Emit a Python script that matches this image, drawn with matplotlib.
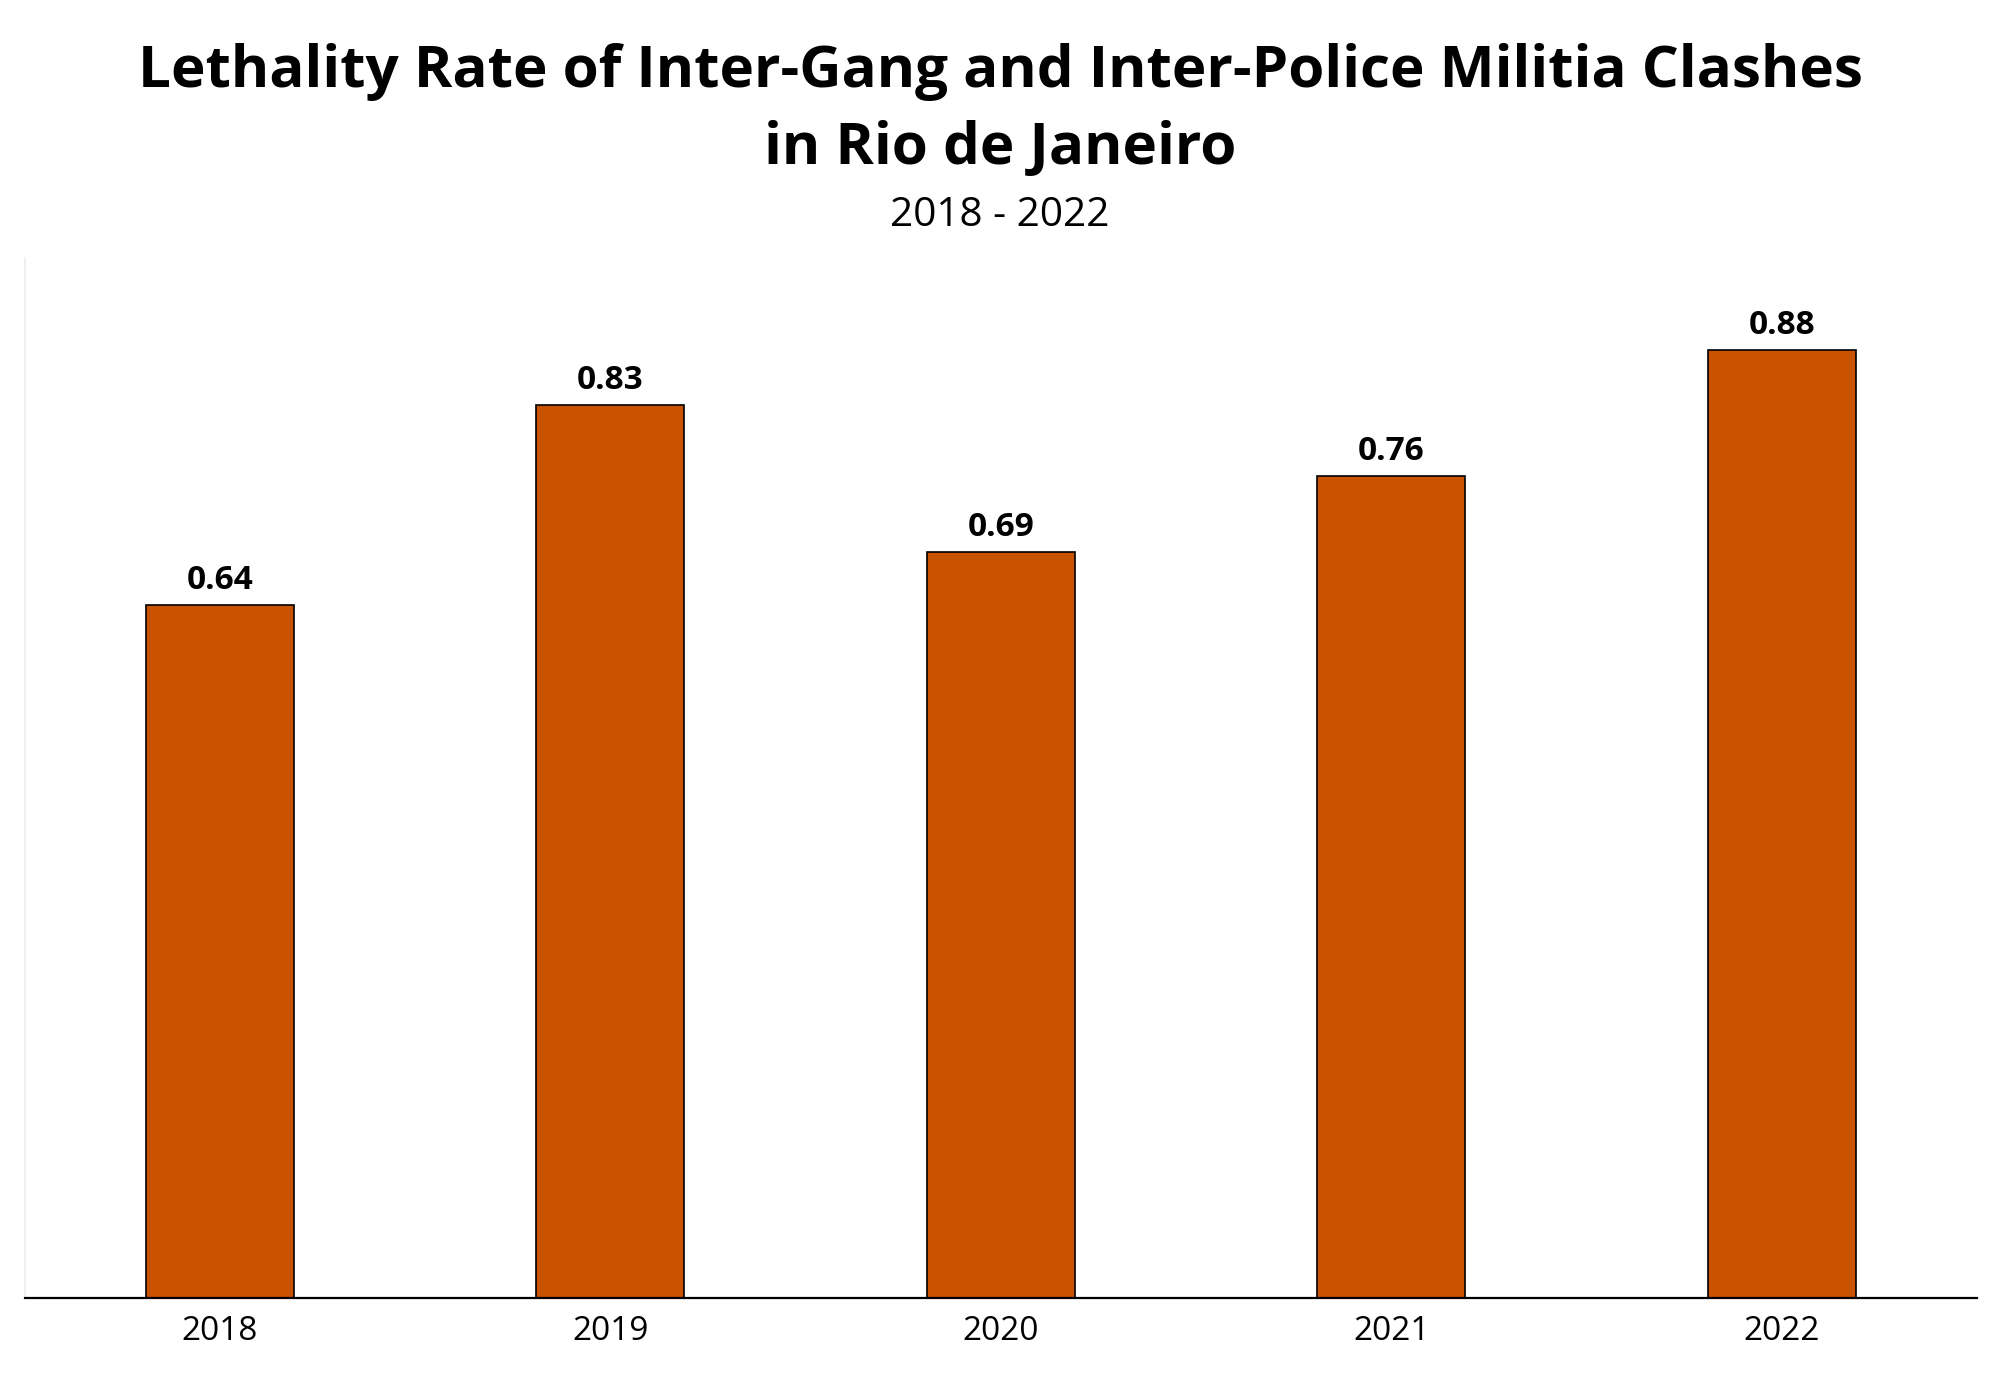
import matplotlib
matplotlib.use("Agg")
import matplotlib.pyplot as plt

years = ["2018", "2019", "2020", "2021", "2022"]
rates = [0.644, 0.830, 0.693, 0.764, 0.881]

plt.rcParams['font.family'] = ['Open Sans', 'DejaVu Sans']

fig = plt.figure(figsize=(10, 7), dpi=200)
ax = fig.add_axes([0.01225, 0.0729, 0.97625, 0.7428])

x = list(range(len(years)))
bars = ax.bar(x, rates, width=0.38, color="#C85200", edgecolor="black", linewidth=0.6)

for xi, v in zip(x, rates):
    ax.annotate(f"{v:.2f}", (xi, v), xytext=(0, 3), textcoords="offset points",
                ha="center", va="bottom", fontsize=12, fontweight="bold")

ax.set_xlim(-0.5, len(years) - 0.5)
ax.set_ylim(0, max(rates) * 1.097)
ax.set_xticks(x)
ax.set_xticklabels(years, fontsize=12)
ax.tick_params(axis="x", length=0, pad=6)
ax.set_yticks([])
for s in ["top", "right"]:
    ax.spines[s].set_visible(False)
ax.spines["left"].set_color("#eeeeee")
ax.spines["left"].set_linewidth(0.6)
ax.spines["bottom"].set_color("black")
ax.spines["bottom"].set_linewidth(0.8)

fig.text(0.5, 0.921, "Lethality Rate of Inter-Gang and Inter-Police Militia Clashes\nin Rio de Janeiro",
         ha="center", va="center", fontsize=21, fontweight="bold", linespacing=1.45)
fig.text(0.5, 0.846, "2018 - 2022", ha="center", va="center", fontsize=14.6)

fig.savefig("out.png", dpi=200)
